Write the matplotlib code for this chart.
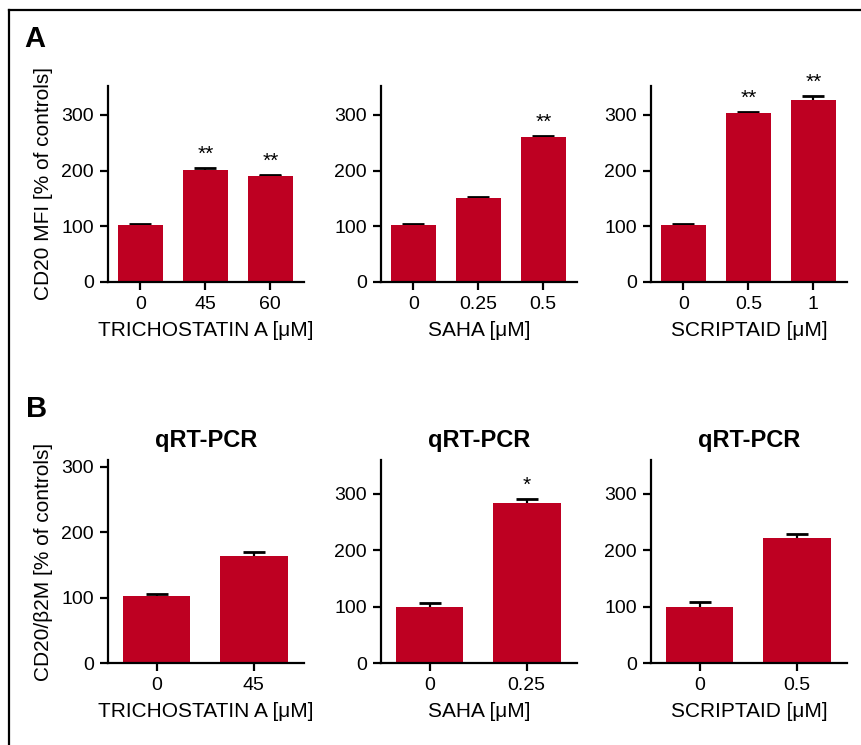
import matplotlib
matplotlib.use('Agg')
import matplotlib.pyplot as plt
from matplotlib.lines import Line2D

red = '#BE0022'

# row A: CD20 MFI
tsa_doses = ['0', '45', '60']
tsa_mfi = [102, 201, 191]
tsa_mfi_err = [3, 3, 1.5]
saha_doses = ['0', '0.25', '0.5']
saha_mfi = [102, 151, 260]
saha_mfi_err = [1.5, 2, 2]
scr_doses = ['0', '0.5', '1']
scr_mfi = [102, 303, 327]
scr_mfi_err = [3, 2, 7]
mfi_stars = [['', '**', '**'], ['', '', '**'], ['', '**', '**']]

# row B: qRT-PCR
tsa_pcr_doses = ['0', '45']
tsa_pcr = [102, 163]
tsa_pcr_err = [3.5, 6]
saha_pcr_doses = ['0', '0.25']
saha_pcr = [100, 284]
saha_pcr_err = [6, 6]
scr_pcr_doses = ['0', '0.5']
scr_pcr = [100, 222]
scr_pcr_err = [8, 6]
pcr_stars = [['', ''], ['', '*'], ['', '']]

drugs = ['TRICHOSTATIN A [\u03bcM]', 'SAHA [\u03bcM]', 'SCRIPTAID [\u03bcM]']

plt.rcParams['font.family'] = ['Liberation Sans', 'DejaVu Sans']

fig = plt.figure(figsize=(8.62, 7.45), dpi=100)

# frame round the figure (left and top only)
fig.add_artist(Line2D([9 / 862, 9 / 862], [0, 1 - 10 / 745], color='black', lw=1.6,
                      transform=fig.transFigure))
fig.add_artist(Line2D([9 / 862, 1], [1 - 10 / 745, 1 - 10 / 745], color='black', lw=1.6,
                      transform=fig.transFigure))

lefts = [108 / 862, 381 / 862, 651 / 862]
w = 196 / 862


def panel(ax, doses, vals, errs, stars, xlabel, ytop):
    x = list(range(len(doses)))
    ax.bar(x, vals, width=0.7, color=red, zorder=2)
    # symmetric bars drawn behind the bars, so only the upper half shows
    ax.errorbar(x, vals, yerr=errs, fmt='none', ecolor='black',
                elinewidth=1.6, capsize=8, capthick=2, zorder=1)
    for xi, v, e, s in zip(x, vals, errs, stars):
        if s:
            ax.annotate(s, (xi, v + e), xytext=(0, 3), textcoords='offset points',
                        ha='center', va='bottom', fontsize=15)
    ax.set_xlim(-0.5, len(doses) - 0.48)
    ax.set_ylim(0, ytop)
    ax.set_yticks([0, 100, 200, 300])
    ax.set_xticks(x)
    ax.set_xticklabels(doses)
    ax.spines['top'].set_visible(False)
    ax.spines['right'].set_visible(False)
    ax.spines['left'].set_linewidth(1.6)
    ax.spines['bottom'].set_linewidth(1.6)
    ax.tick_params(width=1.6, length=6, labelsize=14, pad=4)
    ax.set_xlabel(xlabel, fontsize=15, labelpad=6)


axA = []
for i, (d, v, e) in enumerate([(tsa_doses, tsa_mfi, tsa_mfi_err),
                               (saha_doses, saha_mfi, saha_mfi_err),
                               (scr_doses, scr_mfi, scr_mfi_err)]):
    ax = fig.add_axes([lefts[i], 463 / 745, w, 196 / 745])
    panel(ax, d, v, e, mfi_stars[i], drugs[i], 352)
    axA.append(ax)
axA[0].set_ylabel('CD20 MFI [% of controls]', fontsize=15, labelpad=6)

axB = []
ytops = [310, 360, 360]
for i, (d, v, e) in enumerate([(tsa_pcr_doses, tsa_pcr, tsa_pcr_err),
                               (saha_pcr_doses, saha_pcr, saha_pcr_err),
                               (scr_pcr_doses, scr_pcr, scr_pcr_err)]):
    ax = fig.add_axes([lefts[i], 82 / 745, w, 203 / 745])
    panel(ax, d, v, e, pcr_stars[i], drugs[i], ytops[i])
    ax.set_title('qRT-PCR', fontsize=17, fontweight='bold', pad=9)
    axB.append(ax)
axB[0].set_ylabel('CD20/\u03b22M [% of controls]', fontsize=15, labelpad=6)

fig.text(24 / 862, 1 - 47 / 745, 'A', fontsize=21, fontweight='bold')
fig.text(26 / 862, 1 - 417 / 745, 'B', fontsize=21, fontweight='bold')

fig.savefig('out.png', dpi=100)
